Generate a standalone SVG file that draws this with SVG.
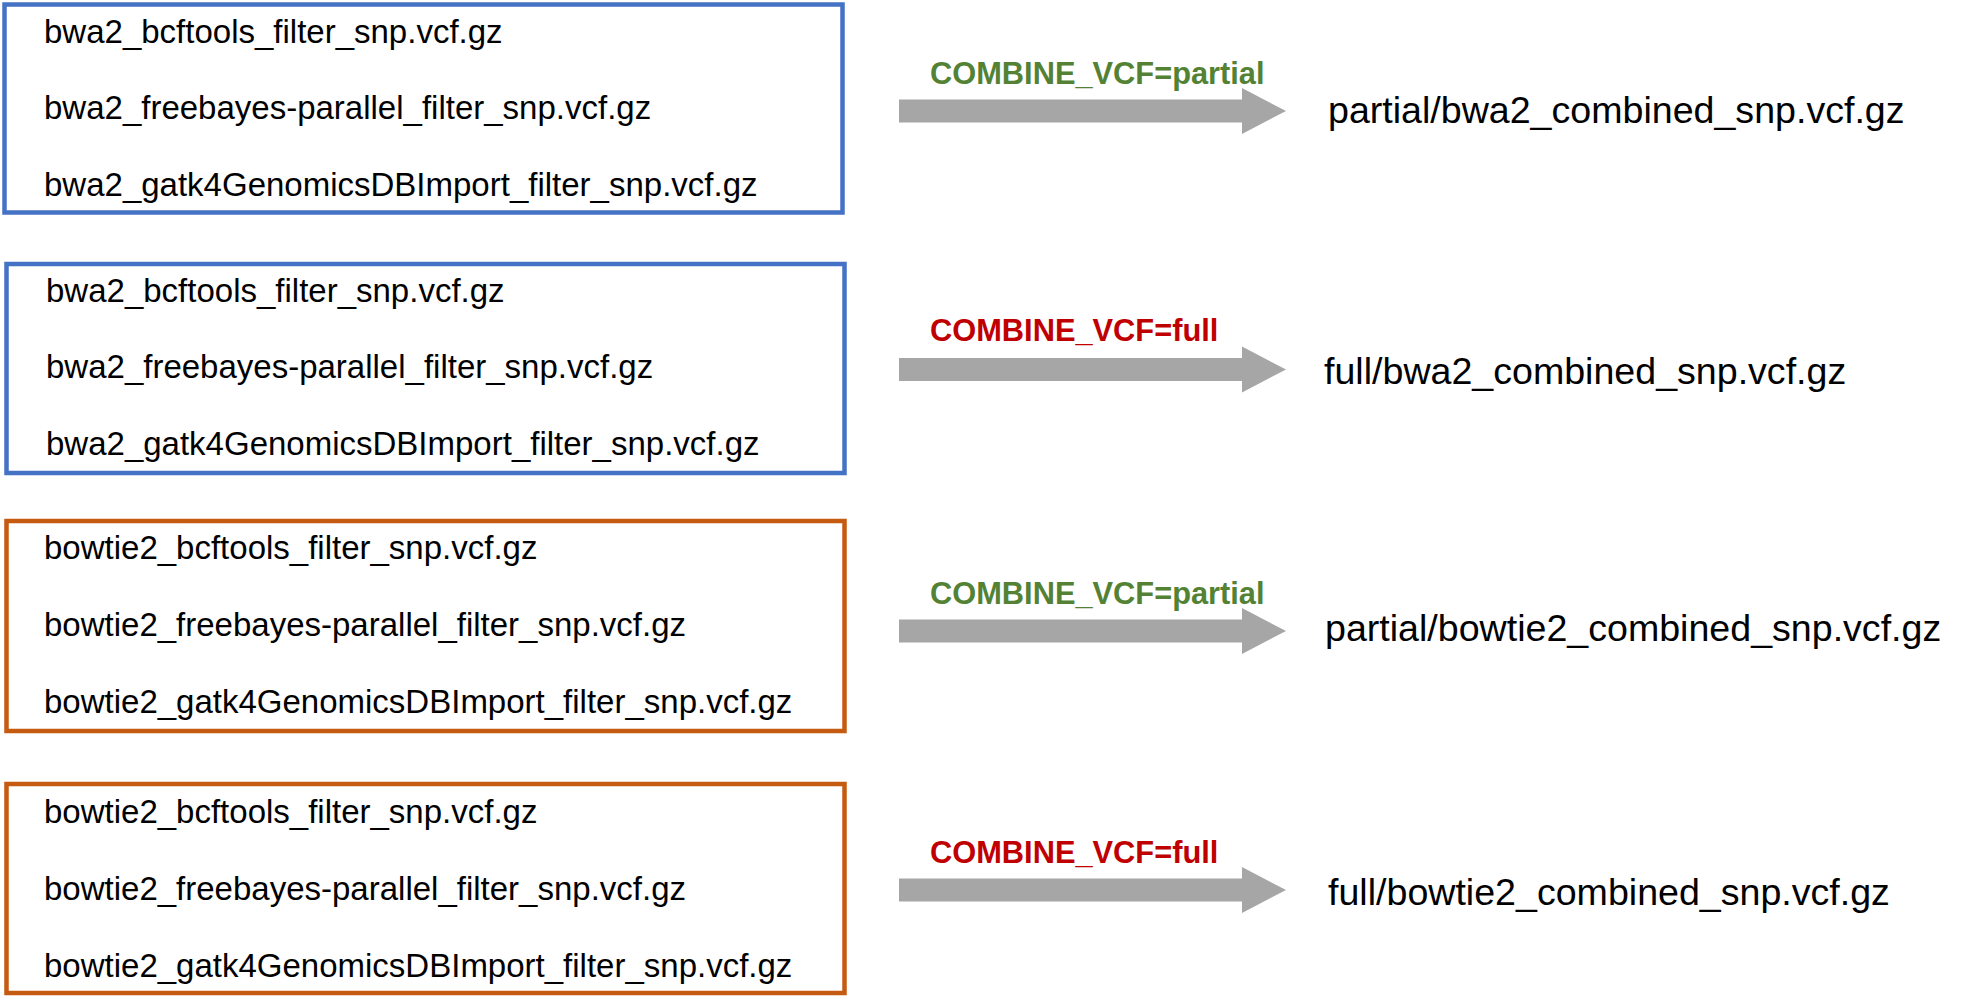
<svg xmlns="http://www.w3.org/2000/svg" width="1968" height="1006" viewBox="0 0 1968 1006">
<style>
.box{fill:#fff;stroke-width:4.5}
.blue{stroke:#4472C4}
.orange{stroke:#C55A11}
.f{font-family:"Liberation Sans",Arial,sans-serif;font-size:33px;fill:#000}
.lbl{font-family:"Liberation Sans",Arial,sans-serif;font-size:30.8px;font-weight:bold}
.partial{fill:#548235}
.full{fill:#C00000}
.out{font-family:"Liberation Sans",Arial,sans-serif;font-size:37.6px;fill:#000}
.arr{fill:#A6A6A6}
</style>
<defs>
<path id="arrow" d="M0,-11.5 H343 V-23 L387,0 L343,23 V11.5 H0 Z"/>
</defs>
<rect width="1968" height="1006" fill="#fff"/>
<g id="box1">
<rect class="box blue" x="4.5" y="4.5" width="838" height="208"/>
<text class="f" x="44" y="43">bwa2_bcftools_filter_snp.vcf.gz</text>
<text class="f" x="44" y="119">bwa2_freebayes-parallel_filter_snp.vcf.gz</text>
<text class="f" x="44" y="196">bwa2_gatk4GenomicsDBImport_filter_snp.vcf.gz</text>
</g>
<g id="box2">
<rect class="box blue" x="6.5" y="264" width="838" height="209"/>
<text class="f" x="46" y="302">bwa2_bcftools_filter_snp.vcf.gz</text>
<text class="f" x="46" y="378">bwa2_freebayes-parallel_filter_snp.vcf.gz</text>
<text class="f" x="46" y="455">bwa2_gatk4GenomicsDBImport_filter_snp.vcf.gz</text>
</g>
<g id="box3">
<rect class="box orange" x="6.5" y="521" width="838" height="210"/>
<text class="f" x="44" y="559">bowtie2_bcftools_filter_snp.vcf.gz</text>
<text class="f" x="44" y="636">bowtie2_freebayes-parallel_filter_snp.vcf.gz</text>
<text class="f" x="44" y="713">bowtie2_gatk4GenomicsDBImport_filter_snp.vcf.gz</text>
</g>
<g id="box4">
<rect class="box orange" x="6.5" y="784" width="838" height="209"/>
<text class="f" x="44" y="823">bowtie2_bcftools_filter_snp.vcf.gz</text>
<text class="f" x="44" y="900">bowtie2_freebayes-parallel_filter_snp.vcf.gz</text>
<text class="f" x="44" y="977">bowtie2_gatk4GenomicsDBImport_filter_snp.vcf.gz</text>
</g>
<g id="connectors">
<use href="#arrow" class="arr" transform="translate(899,111)"/>
<use href="#arrow" class="arr" transform="translate(899,369.5)"/>
<use href="#arrow" class="arr" transform="translate(899,631)"/>
<use href="#arrow" class="arr" transform="translate(899,890)"/>
<text class="lbl partial" x="930" y="84">COMBINE_VCF=partial</text>
<text class="lbl full" x="930" y="341">COMBINE_VCF=full</text>
<text class="lbl partial" x="930" y="604">COMBINE_VCF=partial</text>
<text class="lbl full" x="930" y="863">COMBINE_VCF=full</text>
</g>
<g id="out1"><text class="out" x="1328" y="123">partial/bwa2_combined_snp.vcf.gz</text></g>
<g id="out2"><text class="out" x="1324" y="384">full/bwa2_combined_snp.vcf.gz</text></g>
<g id="out3"><text class="out" x="1325" y="641">partial/bowtie2_combined_snp.vcf.gz</text></g>
<g id="out4"><text class="out" x="1328" y="905">full/bowtie2_combined_snp.vcf.gz</text></g>
</svg>
